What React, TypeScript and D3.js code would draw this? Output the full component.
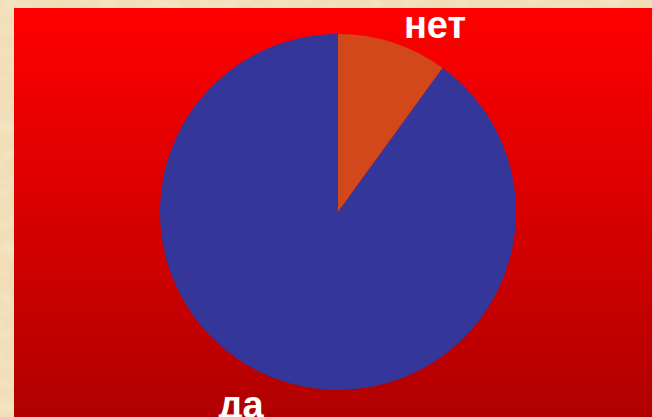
import React, {useEffect, useRef} from 'react'
import * as d3 from 'd3'

const categories = ['нет', 'да']
const values = [10, 90]
const sliceColors = ['#d2481b', '#343699']

const W = 652
const H = 417
const panel = {left: 14, top: 8}
const center = {x: 338, y: 212}
const radius = 178
const fontSize = 38

export default function App() {
  const ref = useRef<SVGSVGElement | null>(null)

  useEffect(() => {
    const svgRoot = d3.select(ref.current)
    svgRoot.selectAll('*').remove()

    const defs = svgRoot.append('defs')

    // parchment look for the background
    const paper = defs.append('filter').attr('id', 'paper').attr('x', 0).attr('y', 0).attr('width', '100%').attr('height', '100%')
    paper.append('feTurbulence').attr('type', 'fractalNoise').attr('baseFrequency', '0.04 0.09').attr('numOctaves', 3).attr('seed', 4).attr('result', 'noise')
    paper.append('feColorMatrix').attr('in', 'noise').attr('type', 'matrix')
      .attr('values', '0 0 0 0 0.93  0 0 0 0 0.84  0 0 0 0 0.66  0 0 0 -0.9 0.55')
      .attr('result', 'spots')
    paper.append('feFlood').attr('flood-color', '#f1deb7').attr('result', 'base')
    paper.append('feComposite').attr('in', 'spots').attr('in2', 'base').attr('operator', 'over')

    const grad = defs.append('linearGradient').attr('id', 'redGrad').attr('x1', 0).attr('y1', 0).attr('x2', 0).attr('y2', 1)
    grad.append('stop').attr('offset', '0%').attr('stop-color', '#ff0000')
    grad.append('stop').attr('offset', '100%').attr('stop-color', '#b10000')

    svgRoot.append('rect').attr('width', W).attr('height', H).attr('fill', '#f1deb7')
    svgRoot.append('rect').attr('width', W).attr('height', H).attr('filter', 'url(#paper)')

    svgRoot.append('rect')
      .attr('x', panel.left).attr('y', panel.top)
      .attr('width', W - panel.left).attr('height', H - panel.top)
      .attr('fill', 'url(#redGrad)')

    const g = svgRoot.append('g').attr('transform', `translate(${center.x},${center.y})`)

    const data = categories.map((c, i) => ({key: c, value: values[i], color: sliceColors[i]}))
    const pie = d3.pie<any>().sort(null).value(d => d.value)
    const arcs = pie(data)

    const arc = d3.arc<any>().innerRadius(0).outerRadius(radius)

    g.selectAll('path')
      .data(arcs)
      .enter()
      .append('path')
      .attr('d', arc)
      .attr('fill', d => d.data.color)

    // labels sit outside the pie, nudged clockwise a little
    const labelR = radius * 1.2
    const shift = 9 * Math.PI / 180
    g.selectAll('text')
      .data(arcs)
      .enter()
      .append('text')
      .text(d => d.data.key)
      .attr('transform', d => {
        const a = (d.startAngle + d.endAngle) / 2 + shift
        return `translate(${labelR * Math.sin(a)},${-labelR * Math.cos(a) + 3})`
      })
      .attr('text-anchor', 'middle')
      .attr('dominant-baseline', 'central')
      .attr('fill', 'white')
      .attr('font-family', '"Liberation Sans", Arial, sans-serif')
      .attr('font-weight', 'bold')
      .attr('font-size', fontSize)
  }, [])

  return (
    <svg
      ref={ref}
      width={W}
      height={H}
      style={{position: 'absolute', left: 0, top: 0, display: 'block'}}
    />
  )
}
